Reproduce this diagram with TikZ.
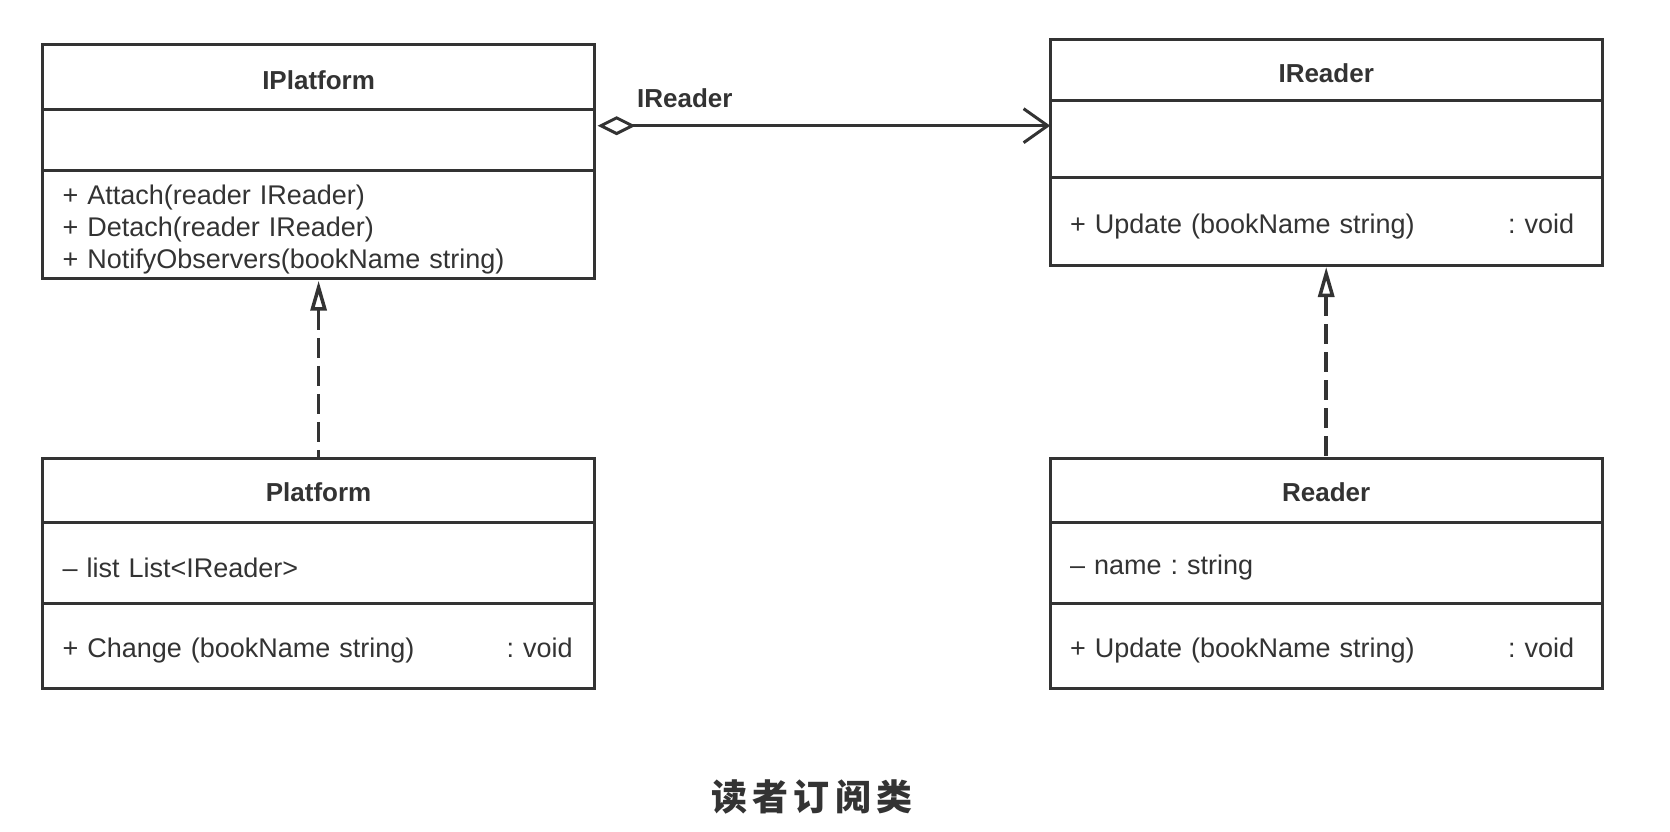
\documentclass[tikz,border=0pt]{standalone}
\usepackage{fontspec}
\setmainfont{Liberation Sans}
\newfontfamily\cjk[LetterSpace=14]{Noto Sans CJK SC}
\usetikzlibrary{positioning,arrows.meta}
\definecolor{umlgray}{HTML}{333333}
\frenchspacing
\tikzset{
  part/.style={draw=umlgray, line width=3pt, text=umlgray, inner sep=0pt, outer sep=0pt,
    minimum width=552pt, font=\fontsize{27}{32}\selectfont},
  head/.style={part, font=\fontsize{26}{32}\selectfont\bfseries,
    execute at begin node=\rule{0pt}{24pt}},
  body/.style={part, text width=512pt, inner xsep=20pt, align=left,
    execute at begin node=\rule{0pt}{30pt}},
  lbl/.style={text=umlgray, inner sep=0pt, font=\fontsize{26}{32}\selectfont\bfseries},
  assoc/.style={draw=umlgray, line width=3pt, shorten <=3pt,
    {Diamond[open,length=38pt,width=19pt]}-{Straight Barb[length=24pt,width=34pt]}},
  real/.style={draw=umlgray, line width=3.5pt, dash pattern=on 20pt off 8pt, shorten <=2pt,
    {Triangle[open,length=30pt,width=16pt]}-},
}

\begin{document}
\begin{tikzpicture}[x=1pt,y=-1pt]
\useasboundingbox (0,0) rectangle (1670,832);

\node[head, minimum height=65pt, anchor=north west] (ipf) at (42.6,44.7) {IPlatform};
\node[part, minimum height=61pt, below=0pt of ipf] (ipf-attr) {};
\node[body, minimum height=108pt, below=0pt of ipf-attr] (ipf-ops)
  {+ Attach(reader IReader)\\+ Detach(reader IReader)\\+ NotifyObservers(bookName string)};

\node[head, minimum height=61pt, anchor=north west] (ird) at (1050.2,40) {IReader};
\node[part, minimum height=76pt, below=0pt of ird] (ird-attr) {};
\node[body, minimum height=88pt, below=0pt of ird-attr] (ird-ops)
  {+ Update (bookName string)\hfill: void\hspace*{8pt}};

\node[head, minimum height=64pt, anchor=north west] (pf) at (42.6,458) {Platform};
\node[body, minimum height=81pt, below=0pt of pf] (pf-attr) {– list List<IReader>};
\node[body, minimum height=85pt, below=0pt of pf-attr] (pf-ops)
  {+ Change (bookName string)\hfill: void\hspace*{2pt}};

\node[head, minimum height=64pt, anchor=north west] (rd) at (1050.2,458) {Reader};
\node[body, minimum height=81pt, below=0pt of rd] (rd-attr) {– name : string};
\node[body, minimum height=85pt, below=0pt of rd-attr] (rd-ops)
  {+ Update (bookName string)\hfill: void\hspace*{8pt}};

\coordinate (agg) at (0,125.7);
\draw[assoc] (agg -| ipf-attr.east) -- (agg -| ird-attr.west)
  node[lbl, pos=0, anchor=south west, xshift=41pt, yshift=16pt] (agg-lbl) {IReader};

\foreach \lo/\hi in {pf/ipf-ops, rd/ird-ops}
  \draw[real] (\hi.south) -- (\lo.north);

\node[text=umlgray, font=\cjk\bfseries\fontsize{36}{40}\selectfont] (cap) at (812,797) {读者订阅类};
\end{tikzpicture}
\end{document}
